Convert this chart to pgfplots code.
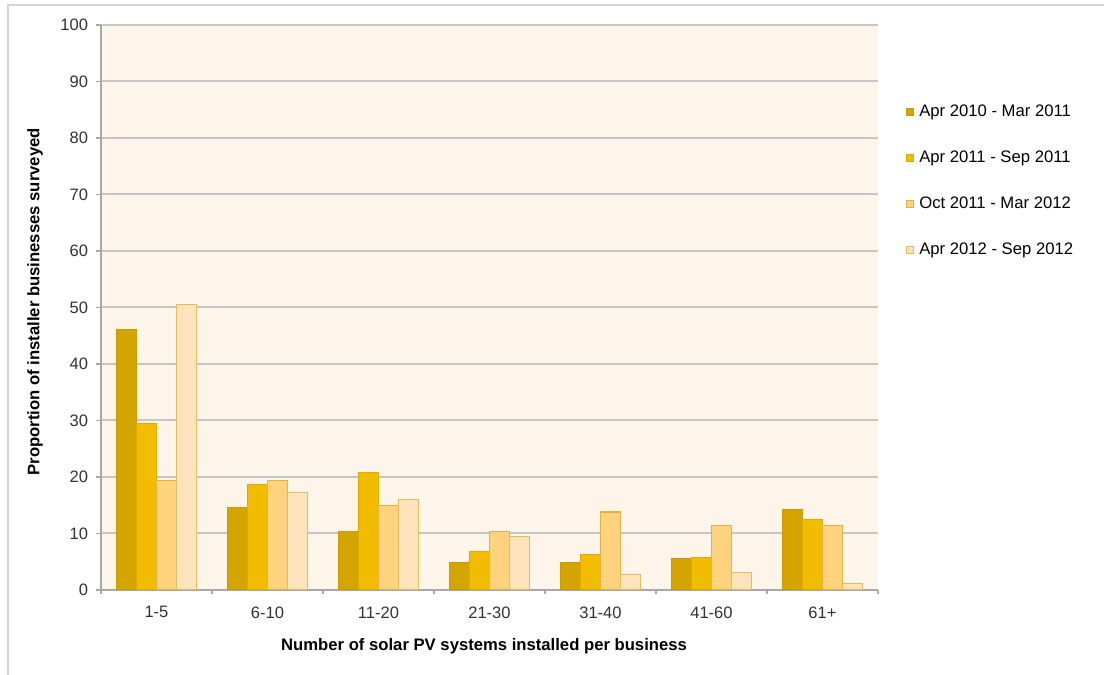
\documentclass[border=0pt]{standalone}
\usepackage{pgfplots}
\pgfplotsset{compat=1.18}
\usepackage{fontspec}
\setmainfont{Liberation Sans}

\definecolor{frameGray}{HTML}{D4D4D4}
\definecolor{plotBg}{HTML}{FEF5EA}
\definecolor{gridGray}{HTML}{C6C6C6}
\definecolor{axisGray}{HTML}{A8A8A8}
\definecolor{tickText}{HTML}{333333}
\definecolor{serA}{HTML}{D4A500}
\definecolor{serAedge}{HTML}{C89C00}
\definecolor{serB}{HTML}{F2BD00}
\definecolor{serBedge}{HTML}{DEAB00}
\definecolor{serC}{HTML}{FFD27D}
\definecolor{serCedge}{HTML}{E3B241}
\definecolor{serD}{HTML}{FFE3BC}
\definecolor{serDedge}{HTML}{E6BB5E}

\begin{document}
\begin{tikzpicture}[x=0.75pt,y=0.75pt]
\useasboundingbox (0,0) rectangle (1104,675);
\fill[white] (0,0) rectangle (1104,675);
\draw[frameGray, line width=1.5pt] (7.5,0) -- (7.5,670) -- (1104,670);
\begin{axis}[
  at={(75.75pt,63.75pt)}, anchor=south west,
  scale only axis, width=582.75pt, height=423.75pt,
  axis background/.style={fill=plotBg},
  ybar=0pt, bar width=0.18,
  xmin=-0.5, xmax=6.5, ymin=0, ymax=100,
  xtick={0,...,6},
  xticklabels={1-5,6-10,11-20,21-30,31-40,41-60,61+},
  minor xtick={-0.5,0.5,...,6.5},
  ytick={0,10,...,100},
  axis x line*=bottom, axis y line*=left,
  axis line style={axisGray, line width=1.1pt, -},
  tick align=outside,
  major tick length=3.75pt, minor tick length=3pt,
  major x tick style={draw=none},
  minor x tick style={axisGray, line width=0.8pt},
  y tick style={axisGray, line width=0.8pt},
  ymajorgrids,
  major grid style={gridGray, line width=1.5pt},
  /pgf/number format/assume math mode=true,
  ticklabel style={font=\fontsize{12.4}{14}\selectfont, text=tickText},
  yticklabel style={anchor=east, inner sep=0pt, xshift=-5.8pt},
  xticklabel style={anchor=north, inner sep=0pt, yshift=-8.5pt},
  xlabel={Number of solar PV systems installed per business},
  ylabel={Proportion of installer businesses surveyed},
  label style={font=\bfseries\fontsize{12.5}{14}\selectfont},
  xlabel style={at={(axis description cs:0.493,-0.099)}, anchor=center},
  ylabel style={at={(axis description cs:-0.085,0.51)}, anchor=center, rotate=0},
  legend style={at={(rel axis cs:1.036,0.7239)}, anchor=west, draw=none, fill=none,
    inner sep=0pt, row sep=22.4pt, column sep=3.6pt,
    font=\fontsize{12.5}{14}\selectfont,
    nodes={inner sep=0pt, text height=9.5pt, text depth=2.6pt}},
  legend cell align=left,
  legend image code/.code={\draw[#1] (0pt,-2.7pt) rectangle (5.4pt,2.7pt);},
]
\addplot[fill=serA, draw=serAedge, line width=0.8pt] coordinates
  {(0,46.1) (1,14.6) (2,10.3) (3,4.9) (4,4.9) (5,5.5) (6,14.2)};
\addplot[fill=serB, draw=serBedge, line width=0.8pt] coordinates
  {(0,29.4) (1,18.6) (2,20.8) (3,6.8) (4,6.3) (5,5.8) (6,12.5)};
\addplot[fill=serC, draw=serCedge, line width=0.8pt] coordinates
  {(0,19.3) (1,19.3) (2,14.9) (3,10.3) (4,13.8) (5,11.4) (6,11.4)};
\addplot[fill=serD, draw=serDedge, line width=0.8pt] coordinates
  {(0,50.6) (1,17.3) (2,16.0) (3,9.5) (4,2.8) (5,3.1) (6,1.2)};
\legend{Apr 2010 - Mar 2011, Apr 2011 - Sep 2011, Oct 2011 - Mar 2012, Apr 2012 - Sep 2012}
\end{axis}
\end{tikzpicture}
\end{document}
